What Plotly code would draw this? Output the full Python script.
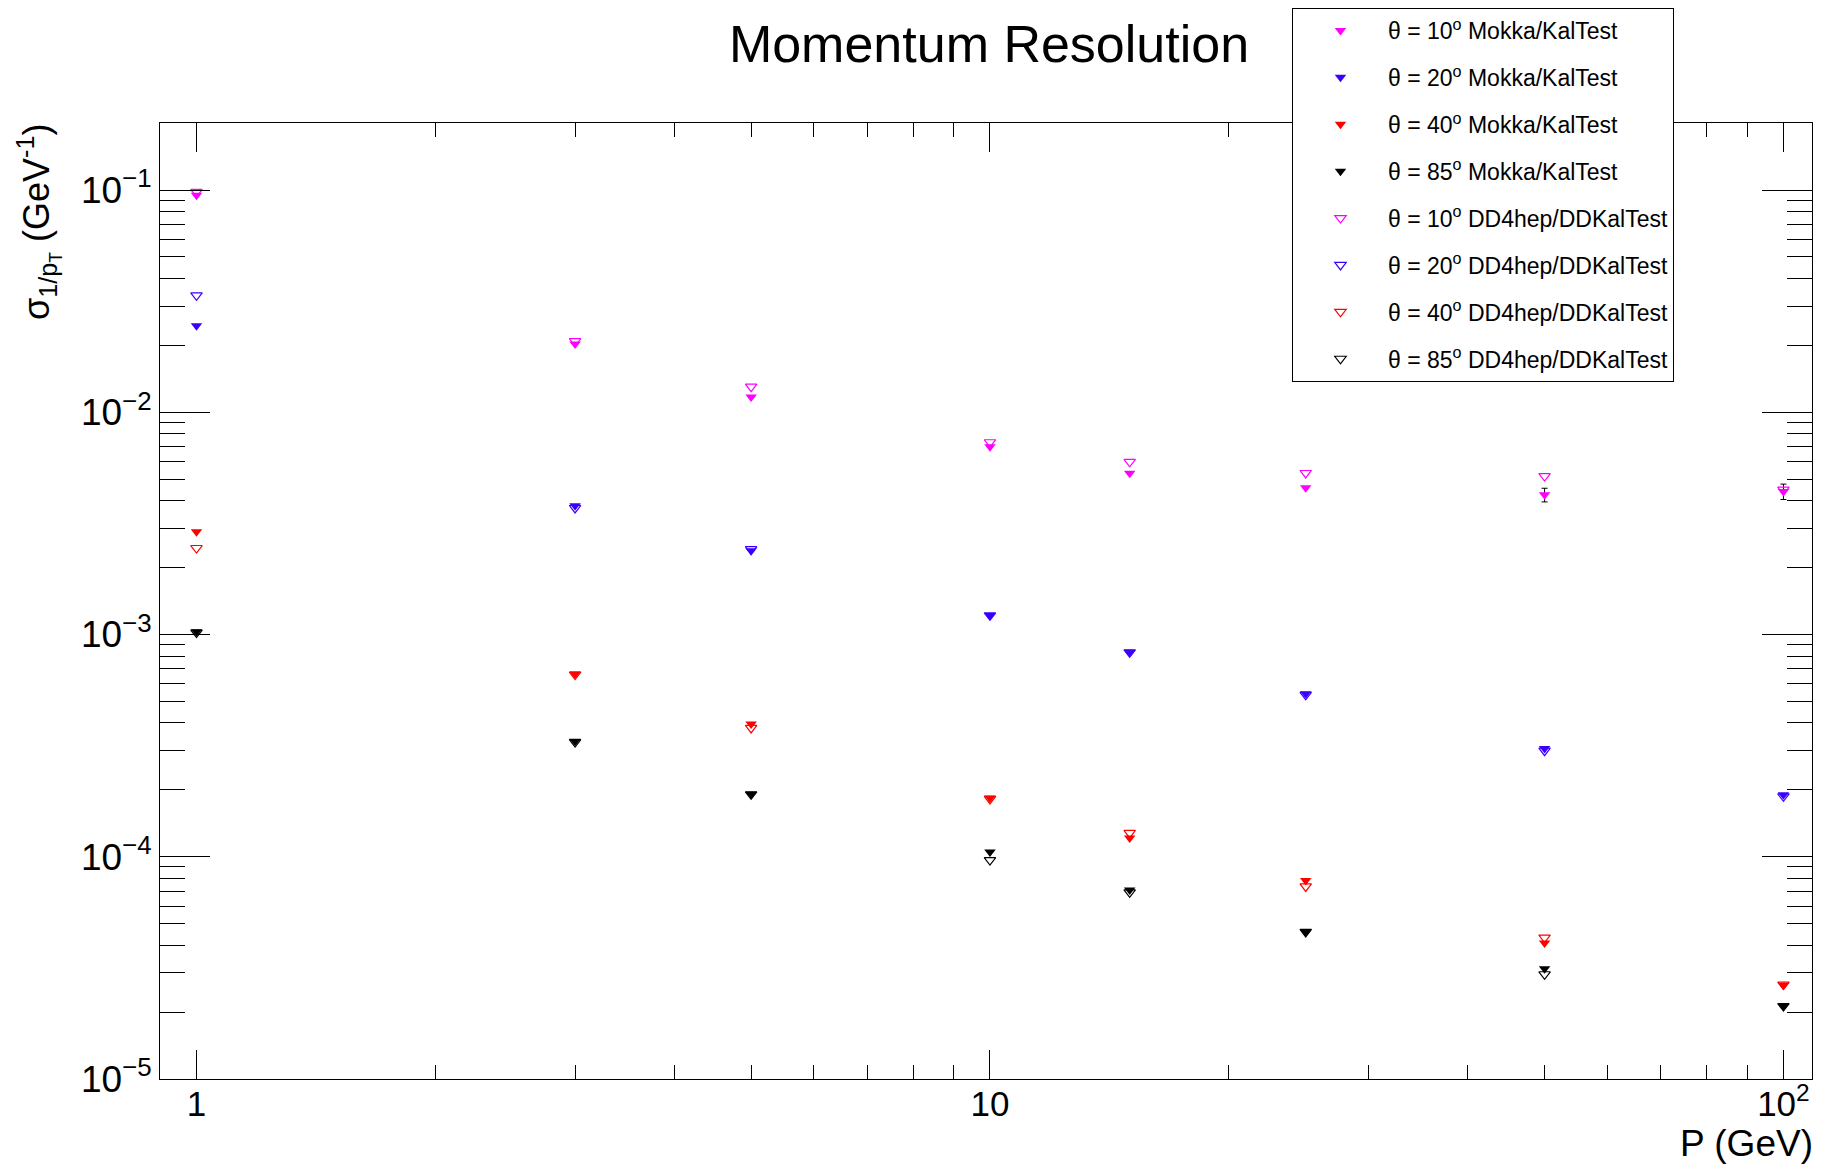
import plotly.graph_objects as go

# ---------------- data ----------------
P = [1, 3, 5, 10, 15, 25, 50, 100]

mokka_10 = [0.0946, 0.0203, 0.0117, 0.00699, 0.00531, 0.00458, 0.00425, 0.00440]
mokka_10_err = [0, 0, 0, 0, 0, 0, 0.00030, 0.00035]
mokka_20 = [0.0245, 0.00380, 0.00238, 0.001217, 0.000832, 0.000541, 0.000307, 0.000190]
mokka_40 = [0.00290, 0.000664, 0.000396, 0.000184, 0.0001216, 0.0000781, 0.0000409, 0.0000264]
mokka_85 = [0.00103, 0.000331, 0.000191, 0.000105, 0.0000708, 0.0000459, 0.0000313, 0.0000213]

dd_10 = [0.0980, 0.0209, 0.01303, 0.00733, 0.00598, 0.00533, 0.00516, 0.00449]
dd_20 = [0.0336, 0.00371, 0.00242, 0.00122, 0.000832, 0.000535, 0.000300, 0.000187]
dd_40 = [0.00245, 0.000660, 0.000380, 0.000182, 0.000128, 0.0000735, 0.0000433, 0.0000266]
dd_85 = [0.00102, 0.000328, 0.000191, 0.0000966, 0.0000692, 0.0000459, 0.0000296, 0.0000213]

angles = ["10", "20", "40", "85"]
colors = ["#ff00ff", "#3a00ff", "#ff0000", "#000000"]

y_tickvals = [1e-5, 1e-4, 1e-3, 1e-2, 1e-1]
y_ticktext = ["10<sup>\u22125</sup>", "10<sup>\u22124</sup>", "10<sup>\u22123</sup>",
              "10<sup>\u22122</sup>", "10<sup>\u22121</sup>"]
x_tickvals = [1, 10, 100]
x_ticktext = ["1", "10", "10<sup>2</sup>"]

FONT = "Liberation Sans, Arial, Helvetica, sans-serif"

fig = go.Figure()

mokka = [mokka_10, mokka_20, mokka_40, mokka_85]
dd = [dd_10, dd_20, dd_40, dd_85]

for i, (a, c, ys) in enumerate(zip(angles, colors, mokka)):
    tr = dict(
        x=P, y=ys, mode="markers",
        name=f"\u03b8 = {a}<sup>o</sup> Mokka/KalTest",
        legendgroup=f"m{a}",
        marker=dict(symbol="triangle-down", size=10, color=c, line=dict(width=0)),
    )
    if i == 0:
        tr["error_y"] = dict(type="data", array=mokka_10_err, visible=True,
                             color="black", thickness=1, width=3)
    fig.add_trace(go.Scatter(**tr))

for a, c, ys in zip(angles, colors, dd):
    fig.add_trace(go.Scatter(
        x=P, y=ys, mode="markers",
        name=f"\u03b8 = {a}<sup>o</sup> DD4hep/DDKalTest",
        legendgroup=f"d{a}",
        marker=dict(symbol="triangle-down-open", size=10, color=c,
                    line=dict(width=1.2, color=c)),
    ))

x_minor = [k * 10 ** d for d in (0, 1) for k in range(2, 10)]
y_minor = [k * 10.0 ** d for d in (-5, -4, -3, -2, -1) for k in range(2, 10) if k * 10.0 ** d < 0.2]

# the page body adds an 8px offset; size the figure so it fits the 1829x1168 window
OFF = 8
W, H = 1829 - OFF, 1168 - OFF
L = 160 - OFF
T = 123 - OFF
R = W - (1812 - OFF)
B = H - (1079 - OFF)
PW, PH = W - L - R, H - T - B

fig.update_layout(
    width=W, height=H,
    margin=dict(l=L, r=R, t=T, b=B, autoexpand=False),
    paper_bgcolor="white", plot_bgcolor="white",
    font=dict(family=FONT, color="black"),
    title=dict(text="Momentum Resolution", x=(989 - OFF) / W, xanchor="center",
               y=1 - (44 - OFF) / H, yanchor="middle",
               font=dict(size=52, family=FONT, color="black")),
    showlegend=True,
    legend=dict(
        xref="container", yref="container",
        x=(1292 - OFF) / W, y=1 - (7 - OFF) / H,
        xanchor="left", yanchor="top",
        bgcolor="white", bordercolor="black", borderwidth=1,
        font=dict(size=23, family=FONT, color="black"),
        itemwidth=85, tracegroupgap=14,
        traceorder="grouped",
    ),
    xaxis=dict(
        type="log", range=[-0.046, 2.036], automargin=False,
        tickmode="array", tickvals=x_tickvals, ticktext=x_ticktext,
        ticks="inside", ticklen=29, tickcolor="black", tickwidth=1,
        minor=dict(tickmode="array", tickvals=x_minor, ticks="inside",
                   ticklen=14, tickcolor="black", tickwidth=1, showgrid=False),
        showline=True, linecolor="black", linewidth=1, mirror="ticks",
        showgrid=False, zeroline=False, ticklabelstandoff=-6,
        tickfont=dict(size=35, family=FONT, color="black"),
    ),
    yaxis=dict(
        type="log", range=[-5, -0.6985], automargin=False,
        tickmode="array", tickvals=y_tickvals, ticktext=y_ticktext,
        ticks="inside", ticklen=50, tickcolor="black", tickwidth=1,
        minor=dict(tickmode="array", tickvals=y_minor, ticks="inside",
                   ticklen=25, tickcolor="black", tickwidth=1, showgrid=False),
        showline=True, linecolor="black", linewidth=1, mirror="ticks",
        showgrid=False, zeroline=False,
        tickfont=dict(size=37, family=FONT, color="black"),
    ),
    annotations=[
        dict(text="P (GeV)", xref="paper", yref="paper",
             x=1 + 3 / PW, y=-(1143 - 1079) / PH,
             xanchor="right", yanchor="middle", showarrow=False,
             font=dict(size=37, family=FONT, color="black")),
        dict(text="\u03c3<sub>1/p<sub>T</sub></sub> (GeV<sup>-1</sup>)",
             xref="paper", yref="paper",
             x=(38 - 160) / PW, y=1.0 + 1 / PH,
             xanchor="center", yanchor="top", textangle=-90, showarrow=False,
             font=dict(size=36, family=FONT, color="black")),
    ],
)

fig.write_html("out.html")
